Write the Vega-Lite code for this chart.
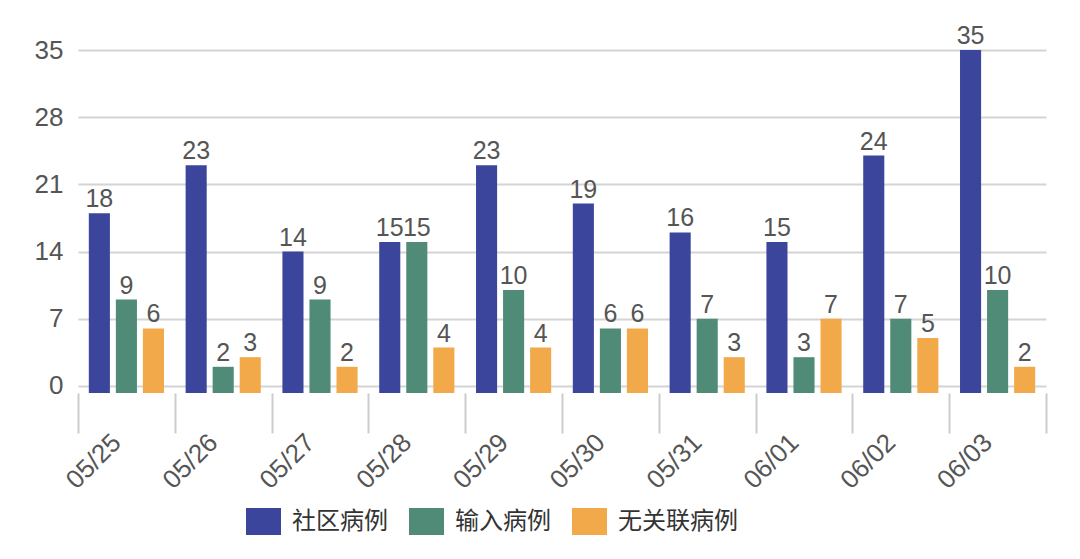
{
  "$schema": "https://vega.github.io/schema/vega-lite/v6.json",
  "width": 968,
  "height": 343,
  "autosize": {"type": "none"},
  "padding": {"left": 78, "top": 50, "right": 34, "bottom": 166},
  "background": "white",
  "config": {"view": {"stroke": null}, "font": "Liberation Sans"},
  "data": {
    "values": [
      {"date": "05/25", "type": "社区病例", "value": 18},
      {"date": "05/25", "type": "输入病例", "value": 9},
      {"date": "05/25", "type": "无关联病例", "value": 6},
      {"date": "05/26", "type": "社区病例", "value": 23},
      {"date": "05/26", "type": "输入病例", "value": 2},
      {"date": "05/26", "type": "无关联病例", "value": 3},
      {"date": "05/27", "type": "社区病例", "value": 14},
      {"date": "05/27", "type": "输入病例", "value": 9},
      {"date": "05/27", "type": "无关联病例", "value": 2},
      {"date": "05/28", "type": "社区病例", "value": 15},
      {"date": "05/28", "type": "输入病例", "value": 15},
      {"date": "05/28", "type": "无关联病例", "value": 4},
      {"date": "05/29", "type": "社区病例", "value": 23},
      {"date": "05/29", "type": "输入病例", "value": 10},
      {"date": "05/29", "type": "无关联病例", "value": 4},
      {"date": "05/30", "type": "社区病例", "value": 19},
      {"date": "05/30", "type": "输入病例", "value": 6},
      {"date": "05/30", "type": "无关联病例", "value": 6},
      {"date": "05/31", "type": "社区病例", "value": 16},
      {"date": "05/31", "type": "输入病例", "value": 7},
      {"date": "05/31", "type": "无关联病例", "value": 3},
      {"date": "06/01", "type": "社区病例", "value": 15},
      {"date": "06/01", "type": "输入病例", "value": 3},
      {"date": "06/01", "type": "无关联病例", "value": 7},
      {"date": "06/02", "type": "社区病例", "value": 24},
      {"date": "06/02", "type": "输入病例", "value": 7},
      {"date": "06/02", "type": "无关联病例", "value": 5},
      {"date": "06/03", "type": "社区病例", "value": 35},
      {"date": "06/03", "type": "输入病例", "value": 10},
      {"date": "06/03", "type": "无关联病例", "value": 2}
    ]
  },
  "encoding": {
    "x": {
      "field": "date",
      "type": "nominal",
      "sort": null,
      "scale": {"paddingInner": 0, "paddingOuter": 0},
      "axis": {
        "title": null,
        "domain": false,
        "grid": false,
        "tickBand": "extent",
        "tickSize": 40,
        "tickColor": "#cccccc",
        "tickWidth": 2,
        "labelAngle": -45,
        "labelAlign": "right",
        "labelBaseline": "middle",
        "labelFontSize": 26,
        "labelColor": "#555555",
        "labelPadding": 5,
        "labelOffset": -10
      }
    },
    "xOffset": {
      "field": "type",
      "type": "nominal",
      "sort": ["社区病例", "输入病例", "无关联病例"],
      "scale": {"paddingInner": 0.22, "paddingOuter": 0.4}
    },
    "y": {
      "field": "value",
      "type": "quantitative",
      "scale": {"domain": [-0.73, 35], "nice": false, "zero": false},
      "axis": {
        "title": null,
        "values": [0, 7, 14, 21, 28, 35],
        "domain": false,
        "ticks": false,
        "labelFontSize": 26,
        "labelColor": "#555555",
        "labelPadding": 15,
        "gridColor": "#d4d4d4",
        "gridWidth": 2
      }
    }
  },
  "layer": [
    {
      "mark": {"type": "bar"},
      "encoding": {
        "y2": {"datum": -0.73},
        "color": {
          "field": "type",
          "type": "nominal",
          "scale": {
            "domain": ["社区病例", "输入病例", "无关联病例"],
            "range": ["#3b459c", "#4f8b77", "#f1a94a"]
          },
          "legend": {
            "orient": "none",
            "legendX": 168,
            "legendY": 454,
            "direction": "horizontal",
            "title": null,
            "labelFont": "Noto Sans CJK SC",
            "labelFontSize": 24,
            "labelColor": "#333333",
            "symbolType": "M-1,-0.77L1,-0.77L1,0.77L-1,0.77Z",
            "symbolSize": 1225,
            "symbolStrokeWidth": 0,
            "symbolOpacity": 1,
            "columnPadding": 21,
            "labelOffset": 11
          }
        }
      }
    },
    {
      "mark": {"type": "text", "dy": -6, "baseline": "alphabetic", "fontSize": 25, "color": "#555555"},
      "encoding": {"text": {"field": "value", "type": "quantitative"}}
    }
  ]
}
